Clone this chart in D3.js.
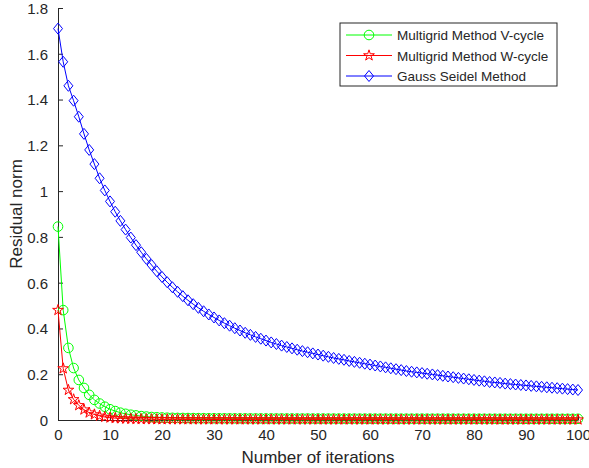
<!DOCTYPE html>
<html lang="en">
<head>
<meta charset="UTF-8">
<title>Residual norm</title>
<script src="https://cdn.jsdelivr.net/npm/d3@7"></script>
<style>
    body { margin: 0; background: white; }
    text { font-family: "Liberation Sans", Arial, sans-serif; fill: #262626; }
</style>
</head>
<body>
<div id="chart"></div>
<script>
    // residual norm per iteration (index = iteration number 0..100)
    const vCycle = [
        0.845, 0.48, 0.315, 0.227, 0.175, 0.14, 0.11, 0.088, 0.072, 0.058,
        0.047, 0.039, 0.032, 0.027, 0.023, 0.02, 0.017, 0.015, 0.013, 0.012,
        0.011, 0.010, 0.0095, 0.009, 0.0088, 0.0085, 0.0083, 0.008, 0.0078, 0.0076,
        0.0075, 0.0074, 0.0073, 0.0072, 0.0071, 0.007, 0.007, 0.0069, 0.0068, 0.0068,
        0.0067, 0.0067, 0.0066, 0.0066, 0.0065, 0.0065, 0.0064, 0.0064, 0.0064, 0.0063,
        0.0063, 0.0063, 0.0062, 0.0062, 0.0062, 0.0061, 0.0061, 0.0061, 0.006, 0.006,
        0.006, 0.006, 0.0059, 0.0059, 0.0059, 0.0059, 0.0058, 0.0058, 0.0058, 0.0058,
        0.0058, 0.0057, 0.0057, 0.0057, 0.0057, 0.0057, 0.0056, 0.0056, 0.0056, 0.0056,
        0.0056, 0.0056, 0.0055, 0.0055, 0.0055, 0.0055, 0.0055, 0.0055, 0.0055, 0.0054,
        0.0054, 0.0054, 0.0054, 0.0054, 0.0054, 0.0054, 0.0054, 0.0053, 0.0053, 0.0053,
        0.0053
    ];
    const wCycle = [
        0.48, 0.225, 0.131, 0.09, 0.064, 0.045, 0.032, 0.024, 0.018, 0.013,
        0.010, 0.008, 0.0065, 0.0055, 0.0048, 0.0042, 0.0038, 0.0035, 0.0032, 0.003,
        0.0028, 0.0027, 0.0026, 0.0025, 0.0024, 0.0024, 0.0023, 0.0023, 0.0022, 0.0022,
        0.0022, 0.0021, 0.0021, 0.0021, 0.0021, 0.002, 0.002, 0.002, 0.002, 0.002,
        0.002, 0.002, 0.0019, 0.0019, 0.0019, 0.0019, 0.0019, 0.0019, 0.0019, 0.0019,
        0.0019, 0.0019, 0.0018, 0.0018, 0.0018, 0.0018, 0.0018, 0.0018, 0.0018, 0.0018,
        0.0018, 0.0018, 0.0018, 0.0018, 0.0018, 0.0018, 0.0017, 0.0017, 0.0017, 0.0017,
        0.0017, 0.0017, 0.0017, 0.0017, 0.0017, 0.0017, 0.0017, 0.0017, 0.0017, 0.0017,
        0.0017, 0.0017, 0.0017, 0.0017, 0.0017, 0.0016, 0.0016, 0.0016, 0.0016, 0.0016,
        0.0016, 0.0016, 0.0016, 0.0016, 0.0016, 0.0016, 0.0016, 0.0016, 0.0016, 0.0016,
        0.0016
    ];
    const gaussSeidel = [
        1.71, 1.565, 1.46, 1.395, 1.325, 1.25, 1.18, 1.118, 1.056, 1.003,
        0.955, 0.91, 0.87, 0.832, 0.797, 0.764, 0.733, 0.704, 0.677, 0.65,
        0.625, 0.602, 0.58, 0.56, 0.541, 0.523, 0.506, 0.49, 0.475, 0.461,
        0.448, 0.435, 0.423, 0.412, 0.401, 0.391, 0.381, 0.372, 0.363, 0.355,
        0.347, 0.339, 0.332, 0.325, 0.319, 0.313, 0.307, 0.301, 0.296, 0.291,
        0.286, 0.281, 0.276, 0.271, 0.267, 0.263, 0.258, 0.254, 0.25, 0.246,
        0.242, 0.238, 0.234, 0.23, 0.226, 0.222, 0.218, 0.214, 0.211, 0.208,
        0.205, 0.202, 0.199, 0.196, 0.193, 0.19, 0.187, 0.184, 0.181, 0.178,
        0.175, 0.172, 0.169, 0.166, 0.164, 0.162, 0.159, 0.157, 0.155, 0.153,
        0.151, 0.149, 0.147, 0.145, 0.143, 0.141, 0.139, 0.137, 0.135, 0.133,
        0.131
    ];
    const seriesNames = ["Multigrid Method V-cycle", "Multigrid Method W-cycle", "Gauss Seidel Method"];
    const seriesColors = ["#00ff00", "#ff0000", "#0000ff"];
    const seriesMarkers = ["circle", "star", "diamond"];
    const xTicks = [0, 10, 20, 30, 40, 50, 60, 70, 80, 90, 100];
    const yTicks = [0, 0.2, 0.4, 0.6, 0.8, 1, 1.2, 1.4, 1.6, 1.8];

    const width = 589, height = 468;
    const margin = { left: 58, right: 11, top: 8, bottom: 48 };

    const svg = d3.select("#chart").append("svg")
        .attr("width", width)
        .attr("height", height);

    const x = d3.scaleLinear().domain([0, 100]).range([margin.left, width - margin.right]);
    const y = d3.scaleLinear().domain([0, 1.8]).range([height - margin.bottom, margin.top]);

    // axes (MATLAB style, ticks inside, box off)
    const xAxis = svg.append("g")
        .attr("transform", `translate(0,${height - margin.bottom})`)
        .call(d3.axisBottom(x).tickValues(xTicks).tickSize(-5).tickSizeOuter(0).tickPadding(9));
    const yAxis = svg.append("g")
        .attr("transform", `translate(${margin.left},0)`)
        .call(d3.axisLeft(y).tickValues(yTicks).tickSize(-5).tickSizeOuter(0).tickPadding(10)
            .tickFormat(d3.format("")));
    [xAxis, yAxis].forEach(a => {
        a.select(".domain").attr("stroke", "#262626");
        a.selectAll(".tick line").attr("stroke", "#262626");
        a.selectAll(".tick text").attr("font-size", 15).attr("fill", "#262626")
            .attr("font-family", "Liberation Sans, Arial, sans-serif");
    });
    yAxis.selectAll(".tick text").attr("dy", "0.36em");

    svg.append("text")
        .attr("x", (margin.left + width - margin.right) / 2)
        .attr("y", 463)
        .attr("text-anchor", "middle")
        .attr("font-size", 17)
        .text("Number of iterations");
    svg.append("text")
        .attr("transform", `translate(22,${(margin.top + height - margin.bottom) / 2}) rotate(-90)`)
        .attr("text-anchor", "middle")
        .attr("font-size", 17)
        .text("Residual norm");

    const star = d3.symbol().type(d3.symbolStar).size(36);
    function drawMarker(g, type, color) {
        if (type === "circle") {
            g.append("circle").attr("r", 4.8);
        } else if (type === "star") {
            g.append("path").attr("d", star());
        } else {
            g.append("path").attr("d", "M0,-5.5L4.5,0L0,5.5L-4.5,0Z");
        }
        g.selectAll("*").attr("fill", "none").attr("stroke", color).attr("stroke-width", 1);
    }

    const allSeries = [vCycle, wCycle, gaussSeidel];
    const line = d3.line().x((d, i) => x(i)).y(d => y(d));

    allSeries.forEach((values, s) => {
        const g = svg.append("g");
        g.append("path")
            .datum(values)
            .attr("d", line)
            .attr("fill", "none")
            .attr("stroke", seriesColors[s])
            .attr("stroke-width", 1);
        g.selectAll(".m")
            .data(values)
            .enter()
            .append("g")
            .attr("transform", (d, i) => `translate(${x(i)},${y(d)})`)
            .each(function () { drawMarker(d3.select(this), seriesMarkers[s], seriesColors[s]); });
    });

    // legend
    const lg = svg.append("g").attr("transform", "translate(340,23)");
    lg.append("rect")
        .attr("width", 217).attr("height", 63)
        .attr("fill", "white").attr("stroke", "#262626").attr("stroke-width", 1);
    seriesNames.forEach((name, s) => {
        const row = lg.append("g").attr("transform", `translate(0,${12 + s * 20.5})`);
        row.append("line").attr("x1", 6).attr("x2", 52).attr("y1", 0).attr("y2", 0)
            .attr("stroke", seriesColors[s]).attr("stroke-width", 1);
        drawMarker(row.append("g").attr("transform", "translate(29,0)"), seriesMarkers[s], seriesColors[s]);
        row.append("text").attr("x", 57).attr("y", 5).attr("font-size", 13.5).text(name);
    });
</script>
</body>
</html>
